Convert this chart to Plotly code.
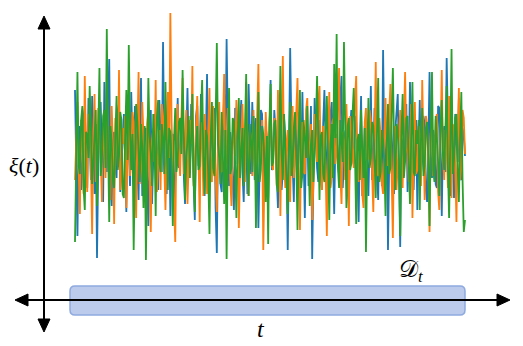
import numpy as np
import plotly.graph_objects as go

# noise samples (three realisations of xi(t))
blue = [3.0, -1.2, -4.3, 0.5, 1.2, -2.0, -0.8, 1.7, 2.1, -0.4, -1.9, 2.6, 0.4, -1.5, 2.7, 0.2, -2.2, 1.3, -5.4, -0.7,
        1.6, 2.4, -0.3, -2.6, 3.4, 0.8, -1.1, 1.9, 4.55, -1.6, -2.8, 0.6, 0.9, -0.9, -1.4, 2.0, 2.3, -2.1, -0.6, 1.1,
        1.8, -0.5, -3.1, 1.4, 0.2, -1.8, 2.9, 0.3, -1.7, 2.2, 0.7, -1.0, -2.5, 1.6, 3.6, -2.3, -0.9, 0.9, 1.1, -1.4,
        -3.8, 0.1, 2.0, -2.7, -0.4, 1.8, 1.5, -0.6, -2.0, 2.5, 0.6, -1.1, 5.4, 0.4, -1.3, -2.2, 2.4, 1.0, -3.3, 0.7,
        0.8, -2.4, -1.6, 1.2, 2.6, -0.9, -0.2, 1.5, 1.9, -1.3, -2.7, 0.6, 3.1, -0.3, -1.0, 2.3, 0.3, -1.9, -3.5, 1.7,
        2.2, -0.8, -0.7, 2.8, 1.4, -1.2, -2.3, 0.4, 3.8, -2.0, -1.5, 1.1, 0.5, -0.6, 2.1, -2.9, -5.15, 0.9, 1.0, -1.7,
        -2.1, 0.7, 2.8, -0.4, 5.55, 1.3, -1.8, 0.9, 0.1, -1.6, -3.0, 2.1, 1.7, -0.7, -0.5, 1.4, 2.5, -1.1, -2.6, 0.3,
        0.9, -2.2, 3.3, 1.0, -1.2, 2.4, -0.1, -1.5, 1.6, 0.5, -3.9, -0.2, 2.0, 1.8, -0.8, -2.5, 1.2, 0.6, -2.4, 1.5,
        3.5, -1.0, -0.6, 2.0, 1.0, -1.3, -2.9, 0.8, 2.3, -2.0, -1.1, 1.6, 0.4, -0.3, -5.0, 0.2, 5.1, 1.2, -1.4, -2.6,
        1.8, 0.5, -2.2, 1.9, 0.6, -1.2, 2.9, -0.5, -3.4, 0.9, 1.3, -1.8, -0.2, 2.2, -5.45, -0.7, 2.6, 1.1, -0.9, -1.6,
        1.5, -0.8, -2.0, 1.3, 3.0, 0.4, -1.6, -2.4, 0.2, 1.8, 2.4, -1.1, -3.2, 0.6, 0.8, -0.5, -1.3, 2.5, 3.7, -1.9,
        -0.4, 0.9, 1.1, -2.1, -2.8, 1.0, 2.0, -0.2, -0.7, 1.7, 1.4, -1.4, -3.6, 0.3, 2.7, -2.3, -1.0, 1.2, 0.5, -0.6,
        -2.3, 0.4, 3.2, -1.5, -0.3, 2.1, 1.9, -0.9, -2.5, 1.1, 0.7, -1.8, 5.0, 0.2, -1.7, 1.4, -5.0, -0.6, 2.2, 0.8,
        -0.8, -2.2, 1.0, 1.9, 2.8, -1.0, -4.85, 0.6, 0.3, -1.3, 1.6, 2.3, -2.1, -0.4, 3.4, 0.5, -1.2, -2.0, 0.9, 1.5,
        -3.0, 0.9, 2.5, -1.2, -0.5, 1.7, 1.3, -2.0, -2.6, 0.3, 3.9, -0.8, -1.4, 1.0, 0.6, -1.7, -1.9, 2.2, 2.1, -0.2,
        -3.3, 0.7, 1.2, -1.1, 4.6, 1.4, -0.9, -2.3, 1.7, 0.5, -2.4, 1.8, 0.4, -0.6, 2.6, -1.4, -1.5, 1.1, 0.8, -0.3]

orange = [-1.5, 0.6, 2.4, -1.0, -3.2, 1.5, 0.6, -2.2, 3.7, 0.2, -2.1, 1.8, 1.3, -0.5, -4.2, 0.9, 2.8, -1.6, -0.7, 2.1,
          1.9, -0.3, -2.6, 1.2, 0.4, -1.4, 3.3, 0.7, -1.8, -2.5, 2.2, 0.3, -3.7, 1.6, 0.9, -0.8, 4.0, -2.0, -1.2, 1.1,
          0.3, 1.7, -2.9, 0.4, 2.6, -1.3, -0.5, 1.9, 1.4, -0.9, -3.4, 0.8, 3.9, -1.7, -1.0, 2.4, 0.8, -0.2, -2.4, 1.3,
          2.0, -1.5, -4.1, 0.5, 1.1, -0.6, 3.5, -2.1, -0.8, 1.0, -2.0, 2.3, 1.7, -1.1, -3.0, 0.2, 2.9, -0.4, 6.85, 1.4,
          -0.6, -1.9, -4.6, 0.9, 2.3, -0.4, -1.3, 1.6, 3.6, -1.2, 0.2, 2.0, -2.7, -0.7, 1.5, 0.3, 4.2, -1.8, -0.9, 1.1,
          2.7, -0.2, -3.6, 1.4, 0.7, -2.3, 1.8, 0.6, -2.2, 1.0, 3.1, -1.4, -1.6, 2.2, 0.5, -0.8, -3.1, 0.4, 2.4, -1.0,
          -1.1, 1.3, 3.8, -0.9, -0.4, 2.1, 1.6, -1.5, -2.8, 0.5, 0.9, -0.3, 2.5, 1.2, -3.9, -1.0, 1.2, 2.3, -0.2, -1.6,
          3.4, 0.7, -2.3, 1.0, 0.6, -1.3, 2.0, -0.5, -1.7, 1.8, 4.3, -0.6, -0.7, 1.5, -5.0, -1.2, 1.9, 0.4, -2.5, 0.8,
          2.8, -0.7, -1.0, 1.6, 0.4, -1.8, 3.0, 0.6, -3.3, 1.1, 4.7, -0.5, -1.9, 0.3, 1.0, -2.1, -2.6, 0.8, 2.2, -1.4,
          -0.3, 1.9, 3.6, -0.8, -4.0, 0.2, 1.4, -1.1, -1.2, 2.0, 2.6, -0.4, 0.1, 1.3, -3.5, -1.7, 1.8, 0.5, -0.6, 2.4,
          3.2, -0.6, -2.0, 1.2, 0.8, -1.0, -4.3, 0.4, 2.9, -1.9, -1.4, 1.5, 1.7, -0.7, -0.1, 2.2, 4.1, -1.2, -2.7, 0.9,
          0.5, -1.5, 2.3, 0.1, -3.8, 1.7, 1.0, -0.3, -0.9, 2.5, 3.7, -1.1, -1.6, 0.6, 0.3, -2.2, -2.9, 1.4, 2.1, -0.5,
          -0.4, 2.0, 1.5, -1.1, -3.1, 0.3, 4.4, -0.9, -1.3, 1.6, 0.7, -1.7, -2.2, 0.5, 2.6, -0.2, -0.8, 1.9, 3.3, -1.4,
          -4.4, 0.8, 1.2, -2.0, -0.5, 1.1, 2.0, -0.6, -1.9, 1.4, 3.9, 0.2, -0.2, -1.6, 1.1, 2.3, -3.4, 0.0, 2.4, -1.2,
          -1.0, 1.2, 0.6, -1.8, 3.5, 0.4, -2.5, 1.7, 1.3, -0.6, -4.1, 0.9, 2.2, -1.3, -0.7, 1.5, 1.8, -2.1, -3.0, 0.7,
          4.0, -0.4, -1.5, 1.0, 0.2, -1.9, 2.7, 0.5, -2.4, 1.3, 1.0, -0.8, -3.6, 0.6, 3.1, -1.5, -0.9, 2.0, 1.6, -0.2]

green = [-4.6, 0.4, 3.9, -0.8, -1.2, 1.5, 2.2, -1.9, -3.0, 0.9, 0.8, -0.4, 3.2, 1.1, -1.7, -0.6, 1.1, 2.0, -2.8, 0.3,
         4.1, -1.3, -0.6, 1.7, 2.0, -0.9, 6.05, 0.5, -3.6, 1.2, 0.4, -1.5, -1.9, 0.7, 2.7, -1.0, -0.3, 1.9, 1.5, -2.2,
         -2.4, 0.6, 3.0, -0.5, 5.25, 1.0, -1.0, 0.8, -5.0, -0.9, 2.3, 1.4, -0.7, -1.6, 1.3, 0.2, -2.9, 1.2, -5.5, -0.3,
         3.6, 0.7, -0.2, -1.8, 1.8, 0.5, -3.3, 1.6, 2.5, -0.7, -1.1, 1.3, 0.6, -1.2, 3.4, 0.1, -2.0, 1.1, 0.9, -0.8,
         -3.8, 0.5, 2.1, -1.1, -0.5, 1.4, 1.6, -0.2, 4.0, 0.8, -2.5, -0.6, 0.3, 1.7, -1.4, 0.9, 2.8, -1.5, -3.1, 0.2,
         1.2, -1.0, -0.8, 1.9, 3.5, -0.3, -2.2, 1.0, 0.7, -1.3, -4.2, 0.6, 2.4, -0.9, -1.3, 1.5, 5.35, 0.3, -0.4, -1.7,
         1.9, -0.4, -2.7, 1.0, -5.45, 0.2, 3.1, -1.2, -0.9, 1.6, 1.4, -0.7, -3.4, 0.5, 2.6, -1.4, 0.1, 1.1, -1.8, 0.4,
         3.8, -0.6, -2.3, 1.3, 0.5, -1.1, 1.7, 0.9, -3.9, -0.3, 2.9, -1.6, -1.0, 1.2, 0.8, -0.5, -2.6, 0.7, -4.7, 1.4,
         3.3, -0.8, -0.6, 1.3, 1.5, -1.7, -2.1, 0.6, 4.2, -0.2, -1.5, 1.8, 0.2, -0.9, -3.2, 0.4, 2.4, -1.3, -0.8, 1.1,
         1.9, -0.5, -4.0, 0.8, 3.0, -1.9, -1.2, 1.5, 0.6, -0.4, 2.2, -1.0, -2.8, 0.3, 1.0, -1.6, -0.3, 1.2, 3.7, -0.7,
         -2.5, 0.7, 0.9, -1.2, -1.6, 1.0, 2.7, -0.5, -3.5, 0.3, 1.3, -1.4, 4.3, 0.6, 5.8, -0.8, -1.9, 1.5, 0.4, -0.6,
         5.4, 0.9, -2.9, 1.2, 1.6, -1.0, -0.7, 1.8, 3.1, -0.2, -3.7, 0.5, 0.8, -1.5, 2.0, 0.1, -1.4, 1.1, -5.1, -0.4,
         2.6, -0.9, -0.4, 1.4, 1.2, -0.3, -2.4, 0.8, 3.6, -1.6, -1.1, 1.0, 0.5, -0.7, -3.3, 0.4, 2.3, -1.2, -0.9, 1.7,
         4.1, 0.2, -2.0, 1.3, 1.0, -0.5, -4.3, 0.9, 2.8, -1.4, -0.6, 1.6, 1.7, -0.8, -2.7, 0.6, 3.4, -1.1, -1.3, 1.0,
         0.3, 1.5, -3.0, 0.6, 2.1, -1.3, -0.8, 1.1, 1.4, -0.4, -3.8, 0.9, 3.9, -1.0, -1.6, 1.7, 0.7, -0.6, -2.3, 1.2,
         2.5, -0.3, -1.0, 1.4, 3.2, -0.8, -3.4, 0.5, 5.05, -1.2, -0.5, 1.6, 1.8, -0.9, -2.6, 0.7, 2.9, -1.5, -4.1, -3.5]

t_end = 10.0

W, H = 523, 346
OFF = 8  # page body margin


def px(x):
    return (x - OFF) / W


def py(y):
    return 1 - (y - OFF) / H


def poly(points):
    return "M " + " L ".join(f"{px(a)},{py(b)}" for a, b in points) + " Z"


fig = go.Figure()
for vals, col in [(blue, "#1f77b4"), (orange, "#ff7f0e"), (green, "#2ca02c")]:
    t = np.linspace(0, t_end, len(vals))
    fig.add_trace(go.Scatter(x=t, y=vals, mode="lines", line=dict(color=col, width=1.8),
                             showlegend=False, hoverinfo="skip"))

# rounded rectangle D_t
x0, x1, y0, y1, r = 70, 465, 286, 315, 5
rx, ry = r / W, r / H
X0, X1, Y0, Y1 = px(x0), px(x1), py(y1), py(y0)
path = (f"M {X0+rx},{Y0} L {X1-rx},{Y0} Q {X1},{Y0} {X1},{Y0+ry} L {X1},{Y1-ry} "
        f"Q {X1},{Y1} {X1-rx},{Y1} L {X0+rx},{Y1} Q {X0},{Y1} {X0},{Y1-ry} "
        f"L {X0},{Y0+ry} Q {X0},{Y0} {X0+rx},{Y0} Z")
fig.add_shape(type="path", path=path, xref="paper", yref="paper",
              fillcolor="#bccbeb", line=dict(color="#8eaae0", width=1.5), layer="below")

# axis arrows (lines + filled heads)
ax_x, ax_y = 44, 300
line = dict(color="black", width=2)
fig.add_shape(type="line", xref="paper", yref="paper", x0=px(ax_x), x1=px(ax_x), y0=py(26), y1=py(322), line=line)
fig.add_shape(type="line", xref="paper", yref="paper", x0=px(25), x1=px(500), y0=py(ax_y), y1=py(ax_y), line=line)
heads = [[(ax_x, 16), (ax_x - 6, 29), (ax_x + 6, 29)],
         [(ax_x, 332), (ax_x - 6, 319), (ax_x + 6, 319)],
         [(15, ax_y), (28, ax_y - 6), (28, ax_y + 6)],
         [(510, ax_y), (497, ax_y - 6), (497, ax_y + 6)]]
for h in heads:
    fig.add_shape(type="path", path=poly(h), xref="paper", yref="paper",
                  fillcolor="black", line=dict(color="black", width=1))

serif = "Liberation Serif"
labels = [(24, 166, "<i>ξ</i>(<i>t</i>)", 22),
          (261, 329, "<i>t</i>", 24),
          (411, 271, "𝒟<sub><i>t</i></sub>", 24)]
for lx, ly, txt, sz in labels:
    fig.add_annotation(x=px(lx), y=py(ly), text=txt, showarrow=False, xanchor="center", yanchor="middle",
                       xref="paper", yref="paper", font=dict(family=serif, size=sz, color="black"))

fig.update_layout(
    width=W, height=H, margin=dict(l=0, r=0, t=0, b=0),
    paper_bgcolor="white", plot_bgcolor="white",
    xaxis=dict(range=[-(75 - OFF) / 39, (W - 75 + OFF) / 39], visible=False),
    yaxis=dict(range=[(150 - OFF - H) / 20, (150 - OFF) / 20], visible=False),
)

fig.write_html("out.html")
